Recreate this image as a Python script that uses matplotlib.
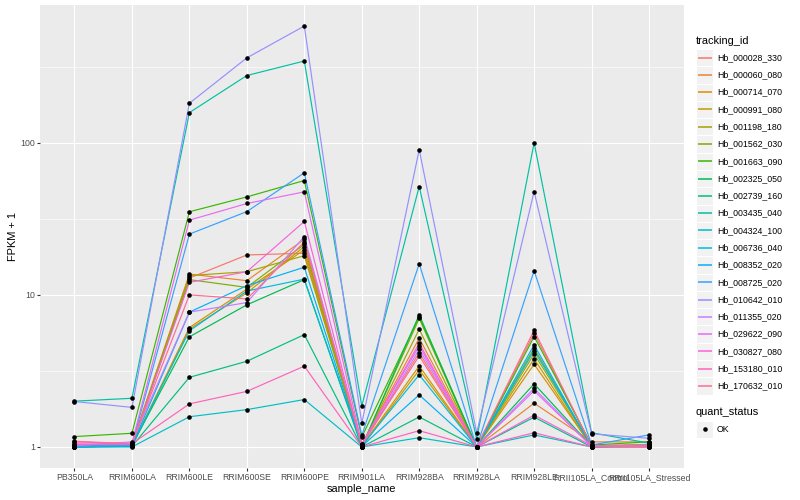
import matplotlib
matplotlib.use("Agg")
import matplotlib.pyplot as plt
from matplotlib.patches import Rectangle
import numpy as np

plt.rcParams['font.family'] = ['Liberation Sans', 'DejaVu Sans']

# sample order on the x axis
samples = ["PB350LA", "RRIM600LA", "RRIM600LE", "RRIM600SE", "RRIM600PE",
           "RRIM901LA", "RRIM928BA", "RRIM928LA", "RRIM928LE",
           "RRII105LA_Control", "RRII105LA_Stressed"]

genes = ["Hb_000028_330", "Hb_000060_080", "Hb_000714_070", "Hb_000991_080",
         "Hb_001198_180", "Hb_001562_030", "Hb_001663_090", "Hb_002325_050",
         "Hb_002739_160", "Hb_003435_040", "Hb_004324_100", "Hb_006736_040",
         "Hb_008352_020", "Hb_008725_020", "Hb_010642_010", "Hb_011355_020",
         "Hb_029622_090", "Hb_030827_080", "Hb_153180_010", "Hb_170632_010"]

# ggplot hue palette, 20 levels
colours = ["#F8766D", "#EA8331", "#D89000", "#C09B00", "#A3A500", "#7CAE00",
           "#39B600", "#00BB4E", "#00BF7D", "#00C1A3", "#00BFC4", "#00BAE0",
           "#00B0F6", "#35A2FF", "#9590FF", "#C77CFF", "#E76BF3", "#FA62DB",
           "#FF62BC", "#FF6C91"]

# FPKM + 1, one list per gene
hb_000028_330 = [1.02, 1.03, 12.9, 18.3, 18.8, 1.02, 4.17, 1.0, 5.6, 1.02, 1.01]
hb_000060_080 = [1.01, 1.05, 13.7, 12.4, 23.2, 1.03, 5.19, 1.0, 1.94, 1.08, 1.08]
hb_000714_070 = [1.0, 1.02, 6.1, 10.9, 19.8, 1.01, 3.41, 1.0, 3.50, 1.01, 1.03]
hb_000991_080 = [1.0, 1.01, 5.95, 10.3, 20.8, 1.0, 3.21, 1.0, 3.8, 1.0, 1.02]
hb_001198_180 = [1.03, 1.04, 13.4, 14.2, 18.1, 1.02, 5.95, 1.0, 4.09, 1.02, 1.04]
hb_001562_030 = [1.02, 1.03, 12.6, 11.2, 21.5, 1.01, 7.0, 1.0, 4.46, 1.01, 1.03]
hb_001663_090 = [1.17, 1.23, 35.2, 44.1, 56.5, 1.16, 7.2, 1.0, 5.32, 1.03, 1.08]
hb_002325_050 = [1.0, 1.02, 5.3, 8.6, 12.6, 1.0, 7.4, 1.0, 2.60, 1.01, 1.02]
hb_002739_160 = [1.0, 1.01, 2.87, 3.66, 5.48, 1.0, 1.575, 1.0, 1.57, 1.0, 1.01]
hb_003435_040 = [2.0, 2.09, 158, 277, 345, 1.86, 51.6, 1.13, 100, 1.24, 1.06]
hb_004324_100 = [1.0, 1.0, 1.58, 1.76, 2.05, 1.0, 1.15, 1.0, 1.20, 1.0, 1.0]
hb_006736_040 = [1.01, 1.02, 5.8, 10.6, 12.7, 1.02, 2.98, 1.0, 4.3, 1.02, 1.01]
hb_008352_020 = [1.0, 1.02, 7.7, 11.5, 15.2, 1.01, 2.20, 1.0, 4.69, 1.0, 1.02]
hb_008725_020 = [1.01, 1.03, 25.1, 35.3, 63.5, 1.19, 16.0, 1.0, 14.4, 1.03, 1.20]
hb_010642_010 = [1.99, 1.82, 182, 362, 586, 1.43, 90, 1.24, 47.8, 1.22, 1.14]
hb_011355_020 = [1.02, 1.08, 7.7, 8.9, 24.2, 1.02, 4.39, 1.0, 2.43, 1.01, 1.02]
hb_029622_090 = [1.03, 1.06, 31.0, 39.9, 47.6, 1.05, 4.62, 1.0, 2.34, 1.01, 1.03]
hb_030827_080 = [1.05, 1.04, 12.1, 14.2, 30.4, 1.03, 4.81, 1.0, 1.62, 1.02, 1.01]
hb_153180_010 = [1.08, 1.05, 1.92, 2.32, 3.40, 1.0, 1.28, 1.0, 1.24, 1.0, 1.0]
hb_170632_010 = [1.09, 1.05, 10.0, 9.4, 22.3, 1.04, 3.97, 1.0, 5.86, 1.01, 1.0]

series = [hb_000028_330, hb_000060_080, hb_000714_070, hb_000991_080,
          hb_001198_180, hb_001562_030, hb_001663_090, hb_002325_050,
          hb_002739_160, hb_003435_040, hb_004324_100, hb_006736_040,
          hb_008352_020, hb_008725_020, hb_010642_010, hb_011355_020,
          hb_029622_090, hb_030827_080, hb_153180_010, hb_170632_010]

status = ["OK"]

W, H = 800, 500
fig = plt.figure(figsize=(8, 5), dpi=100)
ax = fig.add_axes([40 / W, 32 / H, 643.5 / W, 463 / H])
ax.set_facecolor('#EBEBEB')

x = np.arange(len(samples))
for vals, c in zip(series, colours):
    ax.plot(x, vals, color=c, lw=0.85, zorder=2)
for vals in series:
    ax.plot(x, vals, 'o', color='black', ms=3.3, mew=0, zorder=3)

# log10 scale with ggplot's 5% expansion
ax.set_yscale('log')
allv = np.concatenate([np.array(v, dtype=float) for v in series])
lo, hi = np.log10(allv.min()), np.log10(allv.max())
pad = (hi - lo) * 0.05
ax.set_ylim(10 ** (lo - pad), 10 ** (hi + pad))
ax.set_xlim(-0.6, len(samples) - 0.4)

ax.set_yticks([1, 10, 100])
ax.set_yticklabels(["1", "10", "100"])
ax.set_yticks([10 ** 0.5, 10 ** 1.5, 10 ** 2.5], minor=True)
ax.set_yticklabels([], minor=True)
ax.set_xticks(x)
ax.set_xticklabels(samples)

ax.grid(True, which='major', color='white', lw=0.8)
ax.grid(True, which='minor', axis='y', color='white', lw=0.4)
ax.set_axisbelow(True)
for s in ax.spines.values():
    s.set_visible(False)
ax.tick_params(which='major', length=2, width=0.8, color='#333333',
               labelcolor='#4D4D4D', labelsize=6.3, pad=1.6)
ax.tick_params(which='minor', length=0)

fig.text(361.7 / W, 1 - 489 / H, "sample_name", ha='center', va='center',
         fontsize=7.9, color='black')
fig.text(13 / W, 1 - 236.5 / H, "FPKM + 1", ha='center', va='center',
         fontsize=7.9, color='black', rotation=90)

# legends drawn by hand, in pixel coordinates
lax = fig.add_axes([0, 0, 1, 1])
lax.set_xlim(0, W)
lax.set_ylim(H, 0)
lax.axis('off')

key = 17.28
kx = 696
lax.text(kx, 41, "tracking_id", ha='left', va='center', fontsize=7.9)
for i, (g, c) in enumerate(zip(genes, colours)):
    top = 49 + key * i
    lax.add_patch(Rectangle((kx, top), key, key, facecolor='#F2F2F2',
                            edgecolor='white', lw=0.8, zorder=1))
    lax.plot([kx + 1.5, kx + key - 1.5], [top + key / 2] * 2, color=c,
             lw=1.1, solid_capstyle='butt', zorder=2)
    lax.text(kx + key + 3.5, top + key / 2, g, ha='left', va='center',
             fontsize=6.3, color='black')

lax.text(kx, 412, "quant_status", ha='left', va='center', fontsize=7.9)
for i, st in enumerate(status):
    top = 420.5 + key * i
    lax.add_patch(Rectangle((kx, top), key, key, facecolor='#F2F2F2',
                            edgecolor='white', lw=0.8, zorder=1))
    lax.plot([kx + key / 2], [top + key / 2], 'o', color='black', ms=3.3,
             mew=0, zorder=2)
    lax.text(kx + key + 3.5, top + key / 2, st, ha='left', va='center',
             fontsize=6.3, color='black')

fig.savefig("out.png", dpi=100)
